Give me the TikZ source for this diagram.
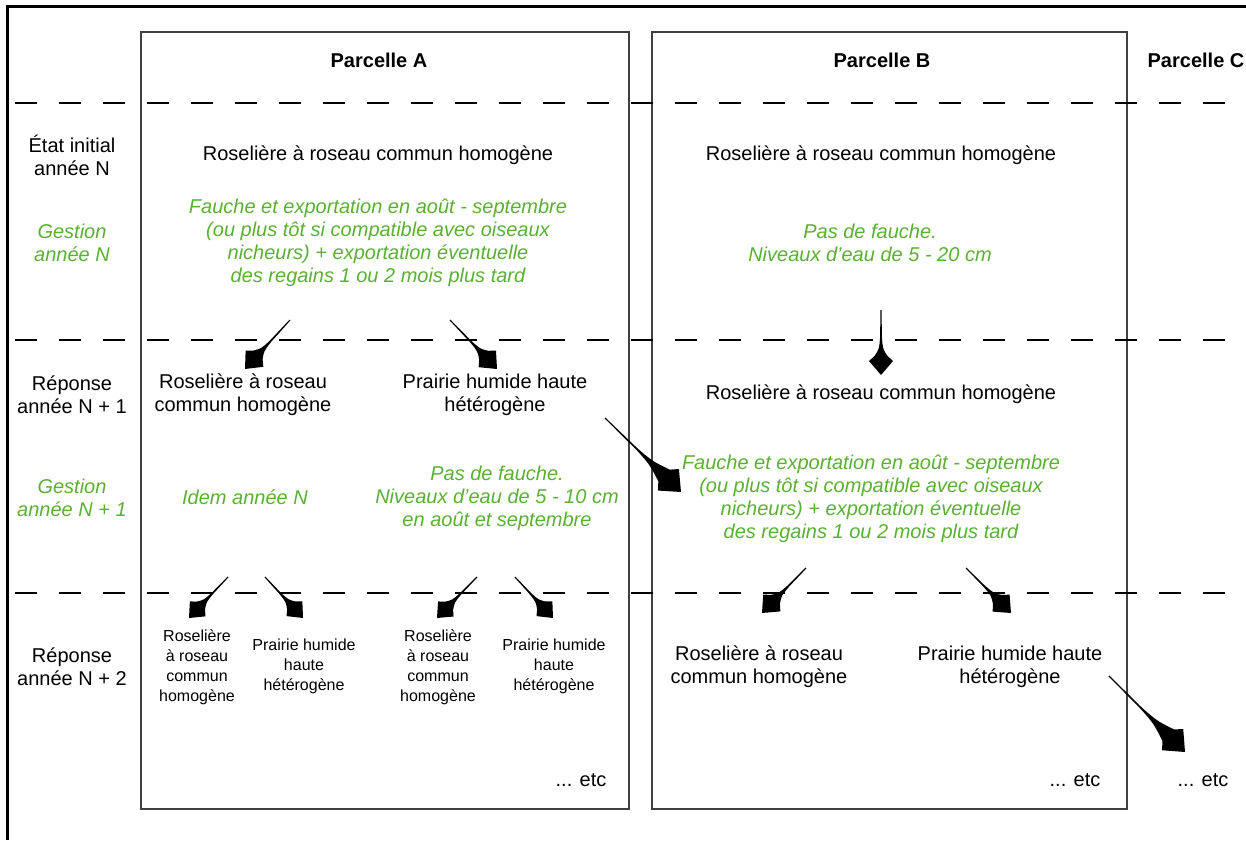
\documentclass[tikz,border=0pt]{standalone}
\usepackage{fontspec}
\setmainfont{Liberation Sans}
\usetikzlibrary{calc}
\definecolor{gest}{RGB}{90,176,50}
% #1 start, #2 tip, #3 head scale, #4 flare scale
\newcommand\flarr[4]{%
 \pgfmathsetlengthmacro\flA{14pt*#3}%
 \pgfmathsetlengthmacro\flB{12pt*#3}%
 \pgfmathsetlengthmacro\flC{19pt*#3}%
 \pgfmathsetlengthmacro\flD{6.5pt*#3}%
 \pgfmathsetlengthmacro\flE{38pt*#4}%
 \pgfmathsetlengthmacro\flF{26pt*#4}%
 \pgfmathsetlengthmacro\flG{1.8pt*#3}%
 \fill[arrowfill] ($(#1)!0.55pt!-90:(#2)$) -- ($(#2)!\flE!(#1)!0.9pt!90:(#1)$)
   .. controls ($(#2)!\flF!(#1)!\flG!90:(#1)$) .. ($(#2)!\flC!(#1)!\flD!90:(#1)$)
   -- ($(#2)!\flA!(#1)!\flB!90:(#1)$) -- (#2)
   -- ($(#2)!\flA!(#1)!\flB!-90:(#1)$) -- ($(#2)!\flC!(#1)!\flD!-90:(#1)$)
   .. controls ($(#2)!\flF!(#1)!\flG!-90:(#1)$) .. ($(#2)!\flE!(#1)!0.9pt!-90:(#1)$)
   -- ($(#1)!0.55pt!90:(#2)$) -- cycle;}
\tikzset{
  txt/.style={align=center, inner sep=0pt, font=\fontsize{20}{23}\selectfont},
  gtxt/.style={align=center, inner sep=0pt, text=gest, font=\fontsize{20}{23}\selectfont\itshape},
  smalltxt/.style={align=center, inner sep=0pt, font=\fontsize{16}{20}\selectfont},
  headtxt/.style={align=center, inner sep=0pt, font=\fontsize{20}{23}\selectfont\bfseries},
  sep/.style={line width=1.6pt, dash pattern=on 22pt off 22pt},
  parcel/.style={draw=black!75, line width=1.2pt},
  frame/.style={line width=3pt},
  arrowfill/.style={fill=black}
}
\begin{document}
\begin{tikzpicture}[x=1pt,y=-1pt]
\useasboundingbox (0,0) rectangle (1246,840);
% frame
\draw[frame] (7.5,840) -- (7.5,6.5) -- (1246,6.5);
% parcels
\draw[parcel] (141,32) rectangle (629,809);
\draw[parcel] (652,32) rectangle (1127,809);
% separators
\foreach \yy in {103,340,593} \draw[sep] (15,\yy) -- (1246,\yy);
% headers
\node[headtxt] (pA) at (379,60) {Parcelle A};
\node[headtxt] (pB) at (882,60) {Parcelle B};
\node[headtxt] (pC) at (1196,60) {Parcelle C};
% left labels
\node[txt] (l1) at (72,155) {État initial\\année N};
\node[gtxt] (l2) at (72,243) {Gestion\\année N};
\node[txt] (l3) at (72,395) {Réponse\\année N + 1};
\node[gtxt] (l4) at (72,498) {Gestion\\année N + 1};
\node[txt] (l5) at (72,667) {Réponse\\année N + 2};
% row 1
\node[txt] (a0) at (378,155) {Roselière à roseau commun homogène};
\node[txt] (b0) at (881,155) {Roselière à roseau commun homogène};
\node[gtxt] (ga0) at (378,243) {Fauche et exportation en août - septembre\\(ou plus tôt si compatible avec oiseaux\\nicheurs) + exportation éventuelle\\des regains 1 ou 2 mois plus tard};
\node[gtxt] (gb0) at (870,243) {Pas de fauche.\\Niveaux d'eau de 5 - 20 cm};
% row 2
\node[txt] (a1) at (243,395) {Roselière à roseau\\commun homogène};
\node[txt] (a2) at (495,395) {Prairie humide haute\\hétérogène};
\node[txt] (b1) at (881,394) {Roselière à roseau commun homogène};
\node[gtxt] (ga1) at (245,497) {Idem année N};
\node[gtxt] (ga2) at (497,498) {Pas de fauche.\\Niveaux d'eau de 5 - 10 cm\\en août et septembre};
\node[gtxt] (gb1) at (871,499) {Fauche et exportation en août - septembre\\(ou plus tôt si compatible avec oiseaux\\nicheurs) + exportation éventuelle\\des regains 1 ou 2 mois plus tard};
% row 3
\node[smalltxt] (a11) at (197,667) {Roselière\\à roseau\\commun\\homogène};
\node[smalltxt] (a12) at (304,666) {Prairie humide\\haute\\hétérogène};
\node[smalltxt] (a21) at (438,667) {Roselière\\à roseau\\commun\\homogène};
\node[smalltxt] (a22) at (554,666) {Prairie humide\\haute\\hétérogène};
\node[txt] (b11) at (759,667) {Roselière à roseau\\commun homogène};
\node[txt] (b12) at (1010,667) {Prairie humide haute\\hétérogène};
\node[txt] (etcA) at (581,780) {... etc};
\node[txt] (etcB) at (1075,780) {... etc};
\node[txt] (etcC) at (1203,780) {... etc};
% arrow end points
\coordinate (r1s) at (290,320); \coordinate (r1e) at (245,369);
\coordinate (r2s) at (450,320); \coordinate (r2e) at (497,369);
\coordinate (r3s) at (881,310); \coordinate (r3e) at (881,375);
\coordinate (r4s) at (605,418); \coordinate (r4e) at (681,492);
\coordinate (r5s) at (228,577); \coordinate (r5e) at (189,618);
\coordinate (r6s) at (265,577); \coordinate (r6e) at (303,618);
\coordinate (r7s) at (477,577); \coordinate (r7e) at (437,618);
\coordinate (r8s) at (515,577); \coordinate (r8e) at (553,618);
\coordinate (r9s) at (806,568); \coordinate (r9e) at (762,613);
\coordinate (r10s) at (966,568); \coordinate (r10e) at (1011,613);
\coordinate (r11s) at (1109,676); \coordinate (r11e) at (1185,752);
\flarr{r1s}{r1e}{1}{1}
\flarr{r2s}{r2e}{1}{1}
\flarr{r3s}{r3e}{1}{1}
\flarr{r4s}{r4e}{1.25}{1.6}
\flarr{r5s}{r5e}{0.9}{0.9}
\flarr{r6s}{r6e}{0.9}{0.9}
\flarr{r7s}{r7e}{0.9}{0.9}
\flarr{r8s}{r8e}{0.9}{0.9}
\flarr{r9s}{r9e}{1}{1}
\flarr{r10s}{r10e}{1}{1}
\flarr{r11s}{r11e}{1.25}{1.6}
\end{tikzpicture}
\end{document}
